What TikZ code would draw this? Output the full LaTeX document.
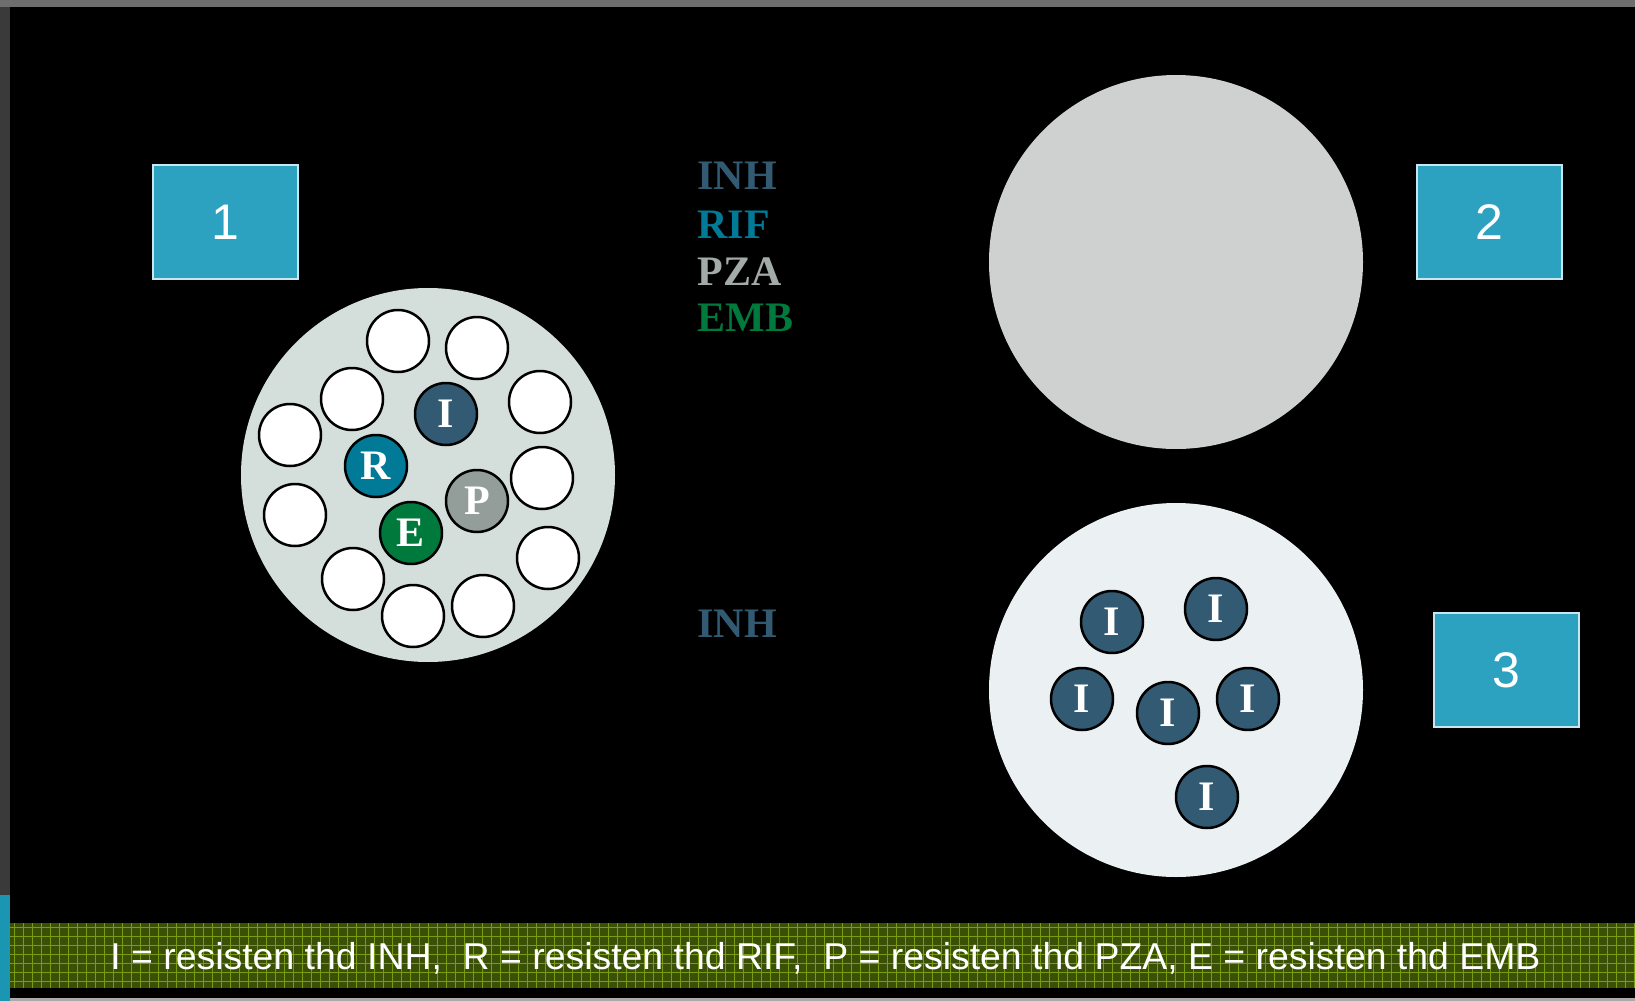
\documentclass[tikz,border=0pt]{standalone}
\usepackage{fontspec}
\setmainfont{Liberation Serif}
\setsansfont{Liberation Sans}
\definecolor{inhcol}{RGB}{51,90,115}
\definecolor{rifcol}{RGB}{0,122,150}
\definecolor{pzacol}{RGB}{147,157,153}
\definecolor{pzatext}{RGB}{163,171,168}
\definecolor{embcol}{RGB}{0,122,60}
\definecolor{boxcol}{RGB}{45,162,192}
\definecolor{boxedge}{RGB}{200,230,238}
\definecolor{cellA}{RGB}{212,222,219}
\definecolor{cellB}{RGB}{207,209,208}
\definecolor{cellC}{RGB}{235,240,243}
\definecolor{bandbase}{RGB}{58,80,4}
\definecolor{bandline}{RGB}{122,156,18}
\definecolor{framecol}{RGB}{58,58,58}
\definecolor{frametop}{RGB}{110,110,110}
\definecolor{sidetab}{RGB}{26,150,178}
\definecolor{bottomedge}{RGB}{170,170,170}
\begin{document}
\begin{tikzpicture}[x=0.5pt,y=-0.5pt,
  disc/.style={circle, draw=black, line width=1.25pt, minimum size=31pt,
    inner sep=0pt, text=white, font=\bfseries\fontsize{21}{21}\selectfont},
  blank/.style={disc, fill=white},
  drugI/.style={disc, fill=inhcol},
  drugR/.style={disc, fill=rifcol},
  drugP/.style={disc, fill=pzacol},
  drugE/.style={disc, fill=embcol},
  cell/.style={circle, minimum size=187pt, inner sep=0pt},
  numbox/.style={draw=boxedge, line width=1pt,
    fill=boxcol, minimum width=72.5pt, minimum height=57pt, inner sep=0pt,
    text=white, font=\sffamily\fontsize{25}{25}\selectfont},
  druglabel/.style={anchor=base west, inner sep=0pt,
    font=\bfseries\fontsize{21}{21}\selectfont},
]
\useasboundingbox (0,0) rectangle (1635,1001);

% window frame and dark canvas
\fill[framecol] (0,0) rectangle (1635,1001);
\fill[frametop] (0,0) rectangle (1635,7);
\fill[sidetab] (0,895) rectangle (10,1001);
\fill[bottomedge] (10,998) rectangle (1635,1001);
\fill[black] (10,7) rectangle (1635,998);

% textured legend band
\fill[bandbase] (10,923) rectangle (1635,988);
\begin{scope}
  \clip (10,923) rectangle (1635,988);
  \foreach \gx in {14,23,...,1635}
    \draw[bandline, line width=0.45pt] (\gx,923) -- (\gx,988);
  \foreach \gy in {927,936,...,988}
    \draw[bandline, line width=0.45pt] (10,\gy) -- (1635,\gy);
\end{scope}
\node[anchor=base west, inner sep=0pt, text=white,
  font=\sffamily\fontsize{18.7}{18.7}\selectfont] (legend) at (110,969)
  {I = resisten thd INH,\ \ R = resisten thd RIF,\ \ P = resisten thd PZA, E = resisten thd EMB};

% numbered boxes
\node[numbox] (box1) at (225.5,222) {1};
\node[numbox] (box2) at (1489.5,222) {2};
\node[numbox] (box3) at (1506,670) {3};

% drug names
\node[druglabel, text=inhcol]  (lINH) at (697,189) {INH};
\node[druglabel, text=rifcol]  (lRIF) at (697,238) {RIF};
\node[druglabel, text=pzatext] (lPZA) at (697,285) {PZA};
\node[druglabel, text=embcol]  (lEMB) at (697,331) {EMB};
\node[druglabel, text=inhcol]  (lINH2) at (697,637) {INH};

% population 1: mixed bacilli
\node[cell, fill=cellA] (pop1) at (428,475) {};
\node[blank] (w1)  at (398,341) {};
\node[blank] (w2)  at (477,348) {};
\node[blank] (w3)  at (352,399) {};
\node[blank] (w4)  at (540,402) {};
\node[blank] (w5)  at (290,435) {};
\node[blank] (w6)  at (542,478) {};
\node[blank] (w7)  at (295,515) {};
\node[blank] (w8)  at (548,558) {};
\node[blank] (w9)  at (353,579) {};
\node[blank] (w10) at (413,616) {};
\node[blank] (w11) at (483,606) {};
\node[drugI] (cI) at (446,414) {I};
\node[drugR] (cR) at (376,466) {R};
\node[drugP] (cP) at (477,501) {P};
\node[drugE] (cE) at (411,533) {E};

% population 2: cleared
\node[cell, fill=cellB] (pop2) at (1176,262) {};

% population 3: INH-resistant survivors
\node[cell, fill=cellC] (pop3) at (1176,690) {};
\node[drugI] (s1) at (1112,622) {I};
\node[drugI] (s2) at (1216,609) {I};
\node[drugI] (s3) at (1082,699) {I};
\node[drugI] (s4) at (1168,713) {I};
\node[drugI] (s5) at (1248,699) {I};
\node[drugI] (s6) at (1207,797) {I};
\end{tikzpicture}
\end{document}
